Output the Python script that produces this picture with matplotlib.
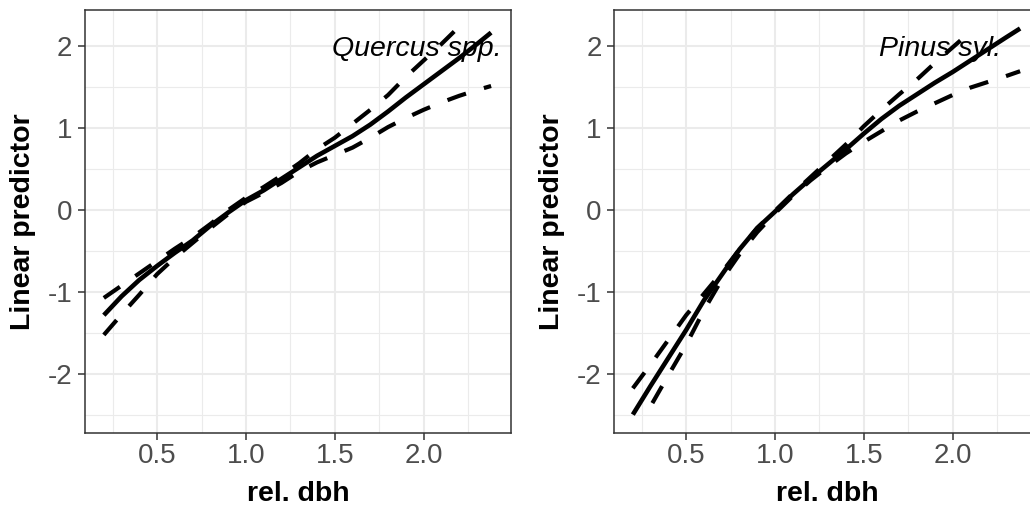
import matplotlib
matplotlib.use("Agg")
import matplotlib.pyplot as plt
import numpy as np

plt.rcParams['font.family'] = ['Liberation Sans', 'DejaVu Sans']

# Quercus spp. - fitted smooth with confidence band
q_x = [0.2, 0.3, 0.4, 0.5, 0.6, 0.7, 0.8, 0.9, 1.0, 1.1, 1.2, 1.3, 1.4, 1.5,
       1.6, 1.7, 1.8, 1.9, 2.0, 2.1, 2.2, 2.3, 2.38]
q_fit = [-1.28, -1.05, -0.85, -0.68, -0.52, -0.37, -0.19, -0.03, 0.12, 0.24,
         0.38, 0.52, 0.66, 0.78, 0.90, 1.04, 1.20, 1.37, 1.53, 1.69, 1.85,
         2.02, 2.16]
q_up_x = [0.2, 0.3, 0.4, 0.5, 0.6, 0.7, 0.8, 0.9, 1.0, 1.1, 1.2, 1.3, 1.4,
          1.5, 1.6, 1.7, 1.8, 1.9, 2.0, 2.1, 2.18]
q_up = [-1.07, -0.92, -0.77, -0.62, -0.47, -0.33, -0.17, 0.0, 0.15, 0.28,
        0.42, 0.57, 0.74, 0.88, 1.05, 1.22, 1.40, 1.62, 1.82, 2.02, 2.19]
q_lo = [-1.52, -1.27, -1.03, -0.78, -0.58, -0.40, -0.22, -0.05, 0.10, 0.21,
        0.33, 0.47, 0.58, 0.67, 0.76, 0.88, 1.01, 1.12, 1.22, 1.31, 1.39,
        1.46, 1.51]

# Pinus sylvestris
p_x = q_x
p_fit = [-2.49, -2.14, -1.80, -1.46, -1.10, -0.79, -0.48, -0.22, -0.02, 0.19,
         0.38, 0.56, 0.74, 0.93, 1.11, 1.27, 1.41, 1.55, 1.68, 1.82, 1.96,
         2.10, 2.21]
p_up_x = [0.2, 0.3, 0.4, 0.5, 0.6, 0.7, 0.8, 0.9, 1.0, 1.1, 1.2, 1.3, 1.4,
          1.5, 1.6, 1.7, 1.8, 1.9, 2.0, 2.1]
p_up = [-2.17, -1.88, -1.58, -1.28, -1.02, -0.76, -0.48, -0.22, -0.01, 0.20,
        0.40, 0.60, 0.80, 1.02, 1.22, 1.41, 1.59, 1.79, 1.98, 2.17]
p_lo_x = [0.31, 0.4, 0.5, 0.6, 0.7, 0.8, 0.9, 1.0, 1.1, 1.2, 1.3, 1.4, 1.5,
          1.6, 1.7, 1.8, 1.9, 2.0, 2.1, 2.2, 2.3, 2.38]
p_lo = [-2.35, -2.01, -1.64, -1.22, -0.85, -0.54, -0.27, -0.04, 0.17, 0.36,
        0.53, 0.69, 0.83, 0.96, 1.09, 1.20, 1.30, 1.40, 1.49, 1.56, 1.63, 1.69]

panels = [
    ("Quercus spp.", q_x, q_fit, q_up_x, q_up, q_x, q_lo, 2.44),
    ("Pinus syl.", p_x, p_fit, p_up_x, p_up, p_lo_x, p_lo, 2.275),
]

W, H = 1030, 509
fig = plt.figure(figsize=(W / 100, H / 100), dpi=100)

lefts = [85, 614]
for (name, x, fit, ux, up, lx, lo, tx), left in zip(panels, lefts):
    ax = fig.add_axes([left / W, (H - 433) / H, 426 / W, 423 / H])
    ax.set_xlim(0.094, 2.492)
    ax.set_ylim(-2.714, 2.435)
    ax.set_xticks([0.5, 1.0, 1.5, 2.0])
    ax.set_xticklabels(["0.5", "1.0", "1.5", "2.0"])
    ax.set_yticks([-2, -1, 0, 1, 2])
    ax.set_yticklabels(["-2", "-1", "0", "1", "2"])
    ax.set_xticks(np.arange(0.25, 2.5, 0.5), minor=True)
    ax.set_yticks(np.arange(-2.5, 2.0, 1.0), minor=True)
    ax.grid(which='major', color='#EBEBEB', linewidth=1.5)
    ax.grid(which='minor', color='#EBEBEB', linewidth=0.8)
    ax.set_axisbelow(True)
    ax.tick_params(which='minor', length=0)
    ax.tick_params(axis='x', which='major', length=5, width=1.1, color='#333333',
                   labelsize=20, labelcolor='#4D4D4D', pad=2.2)
    ax.tick_params(axis='y', which='major', length=5, width=1.1, color='#333333',
                   labelsize=20, labelcolor='#4D4D4D', pad=4)
    for s in ax.spines.values():
        s.set_color('#333333')
        s.set_linewidth(1.1)

    ax.plot(x, fit, color='black', linewidth=3.3, solid_capstyle='butt')
    ax.plot(ux, up, color='black', linewidth=3.0, dashes=(4.7, 4.5),
            dash_capstyle='butt')
    ax.plot(lx, lo, color='black', linewidth=3.0, dashes=(4.7, 4.5),
            dash_capstyle='butt')

    ax.text(tx, 1.88, name, style='italic', fontsize=20.5, ha='right',
            va='baseline', color='black')

    cx = left + 426 / 2
    fig.text(cx / W, (H - 501) / H, "rel. dbh", fontsize=20.5,
             fontweight='bold', ha='center', va='baseline')
    fig.text((left - 62) / W, (H - 221.5) / H, "Linear predictor",
             fontsize=20.5, fontweight='bold', rotation=90,
             ha='center', va='center')

fig.savefig("out.png", dpi=100)
